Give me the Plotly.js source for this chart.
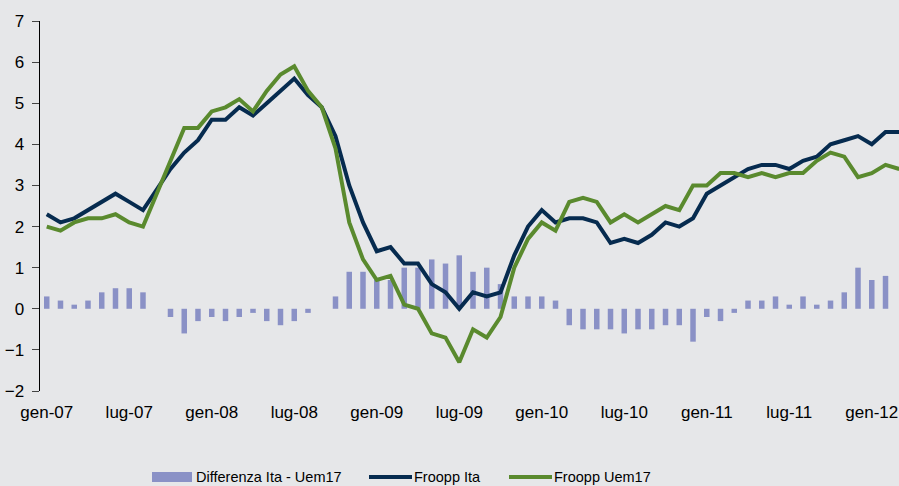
<!DOCTYPE html>
<html>
<head>
<meta charset="utf-8">
<script src="https://cdn.plot.ly/plotly-3.0.1.min.js"></script>
<style>
  html, body { margin: 0; padding: 0; background: #E6E7E9; }
  #chart { width: 899px; height: 486px; }
</style>
</head>
<body>
<div id="chart"></div>
<script>
// ---- data ----
const months = [
  'gen-07','feb-07','mar-07','apr-07','mag-07','giu-07','lug-07','ago-07','set-07','ott-07','nov-07','dic-07',
  'gen-08','feb-08','mar-08','apr-08','mag-08','giu-08','lug-08','ago-08','set-08','ott-08','nov-08','dic-08',
  'gen-09','feb-09','mar-09','apr-09','mag-09','giu-09','lug-09','ago-09','set-09','ott-09','nov-09','dic-09',
  'gen-10','feb-10','mar-10','apr-10','mag-10','giu-10','lug-10','ago-10','set-10','ott-10','nov-10','dic-10',
  'gen-11','feb-11','mar-11','apr-11','mag-11','giu-11','lug-11','ago-11','set-11','ott-11','nov-11','dic-11',
  'gen-12','feb-12','mar-12'
];
const tickLabels = ['gen-07','lug-07','gen-08','lug-08','gen-09','lug-09','gen-10','lug-10','gen-11','lug-11','gen-12'];

const frooppIta = [
  2.3,2.1,2.2,2.4,2.6,2.8,2.6,2.4,2.9,3.4,3.8,4.1,
  4.6,4.6,4.9,4.7,5.0,5.3,5.6,5.2,4.9,4.2,3.0,2.1,
  1.4,1.5,1.1,1.1,0.6,0.4,0.0,0.4,0.3,0.4,1.3,2.0,
  2.4,2.1,2.2,2.2,2.1,1.6,1.7,1.6,1.8,2.1,2.0,2.2,
  2.8,3.0,3.2,3.4,3.5,3.5,3.4,3.6,3.7,4.0,4.1,4.2,
  4.0,4.3,4.3
];
const frooppUem17 = [
  2.0,1.9,2.1,2.2,2.2,2.3,2.1,2.0,2.8,3.6,4.4,4.4,
  4.8,4.9,5.1,4.8,5.3,5.7,5.9,5.3,4.9,3.9,2.1,1.2,
  0.7,0.8,0.1,0.0,-0.6,-0.7,-1.3,-0.5,-0.7,-0.2,1.0,1.7,
  2.1,1.9,2.6,2.7,2.6,2.1,2.3,2.1,2.3,2.5,2.4,3.0,
  3.0,3.3,3.3,3.2,3.3,3.2,3.3,3.3,3.6,3.8,3.7,3.2,
  3.3,3.5,3.4
];
const differenza = [
  0.3,0.2,0.1,0.2,0.4,0.5,0.5,0.4,0.0,-0.2,-0.6,-0.3,
  -0.2,-0.3,-0.2,-0.1,-0.3,-0.4,-0.3,-0.1,0.0,0.3,0.9,0.9,
  0.7,0.7,1.0,1.0,1.2,1.1,1.3,0.9,1.0,0.6,0.3,0.3,
  0.3,0.2,-0.4,-0.5,-0.5,-0.5,-0.6,-0.5,-0.5,-0.4,-0.4,-0.8,
  -0.2,-0.3,-0.1,0.2,0.2,0.3,0.1,0.3,0.1,0.2,0.4,1.0,
  0.7,0.8,null
];
const seriesNames = ['Differenza Ita - Uem17', 'Froopp Ita', 'Froopp Uem17'];

// ---- styles ----
const BG = '#E6E7E9';
const C_BAR = '#8A91C6';
const C_ITA = '#062B4F';
const C_UEM = '#5A8A2E';
const FONT = 'Liberation Sans, Arial, sans-serif';

const W = 899, H = 486;
const M = {l: 40, r: 0, t: 21, b: 95};
const xRange = [-0.49, 61.98];
// boundaries between categories where the small tick marks sit
const boundaryTicks = tickLabels.map(l => months.indexOf(l) - 0.5).filter(v => v > 0);

const traces = [
  {type: 'bar', x: months, y: differenza, name: seriesNames[0], marker: {color: C_BAR, line: {width: 0}}, width: 0.4, showlegend: false, hoverinfo: 'skip'},
  {type: 'scatter', mode: 'lines', x: months, y: frooppIta, name: seriesNames[1], line: {color: C_ITA, width: 4}, showlegend: false},
  {type: 'scatter', mode: 'lines', x: months, y: frooppUem17, name: seriesNames[2], line: {color: C_UEM, width: 4}, showlegend: false}
];

// pixel -> paper helpers for the hand-made legend
const pw = W - M.l - M.r, ph = H - M.t - M.b;
const px = v => (v - M.l) / pw;
const py = v => (H - M.b - v) / ph;

const legY = 477;
const shapes = [
  {type: 'rect', xref: 'paper', yref: 'paper', x0: px(152), x1: px(192), y0: py(482), y1: py(472), fillcolor: C_BAR, line: {width: 0}},
  {type: 'line', xref: 'paper', yref: 'paper', x0: px(369), x1: px(412), y0: py(legY), y1: py(legY), line: {color: C_ITA, width: 4}},
  {type: 'line', xref: 'paper', yref: 'paper', x0: px(509), x1: px(552), y0: py(legY), y1: py(legY), line: {color: C_UEM, width: 4}}
];
const legFont = {family: FONT, size: 14.5, color: '#000'};
const annotations = [
  {xref: 'paper', yref: 'paper', x: px(194), y: py(legY), xanchor: 'left', yanchor: 'middle', text: seriesNames[0], showarrow: false, font: legFont},
  {xref: 'paper', yref: 'paper', x: px(412), y: py(legY), xanchor: 'left', yanchor: 'middle', text: seriesNames[1], showarrow: false, font: legFont},
  {xref: 'paper', yref: 'paper', x: px(552), y: py(legY), xanchor: 'left', yanchor: 'middle', text: seriesNames[2], showarrow: false, font: legFont}
];

const layout = {
  width: W, height: H,
  margin: {l: M.l, r: M.r, t: M.t, b: M.b, pad: 0},
  paper_bgcolor: BG, plot_bgcolor: BG,
  font: {family: FONT, color: '#000'},
  showlegend: false,
  xaxis: {
    type: 'category', categoryorder: 'array', categoryarray: months,
    range: xRange, tickmode: 'array', tickvals: tickLabels,
    ticks: 'outside', ticklen: 6, tickcolor: 'rgba(0,0,0,0)',
    showline: false, showgrid: false, zeroline: false,
    tickfont: {family: FONT, size: 17, color: '#000'}, tickangle: 0
  },
  xaxis2: {
    overlaying: 'x', anchor: 'free', position: 2 / 9, type: 'linear',
    range: xRange, tickmode: 'array', tickvals: boundaryTicks,
    ticks: 'outside', ticklen: 5, tickwidth: 1, tickcolor: '#8C8C8C',
    showticklabels: false, showline: true, linecolor: '#000', linewidth: 1.5,
    showgrid: false, zeroline: false
  },
  yaxis: {
    range: [-2, 7], tickmode: 'linear', tick0: 0, dtick: 1,
    ticks: 'outside', ticklen: 7, tickwidth: 1, tickcolor: '#444',
    showline: true, linecolor: '#000', linewidth: 1.5,
    showgrid: false, zeroline: false, ticklabelstandoff: 4,
    tickfont: {family: FONT, size: 17, color: '#000'}
  },
  bargap: 0.6,
  shapes: shapes,
  annotations: annotations
};

Plotly.newPlot('chart', traces, layout, {displayModeBar: false, staticPlot: true});
</script>
</body>
</html>
